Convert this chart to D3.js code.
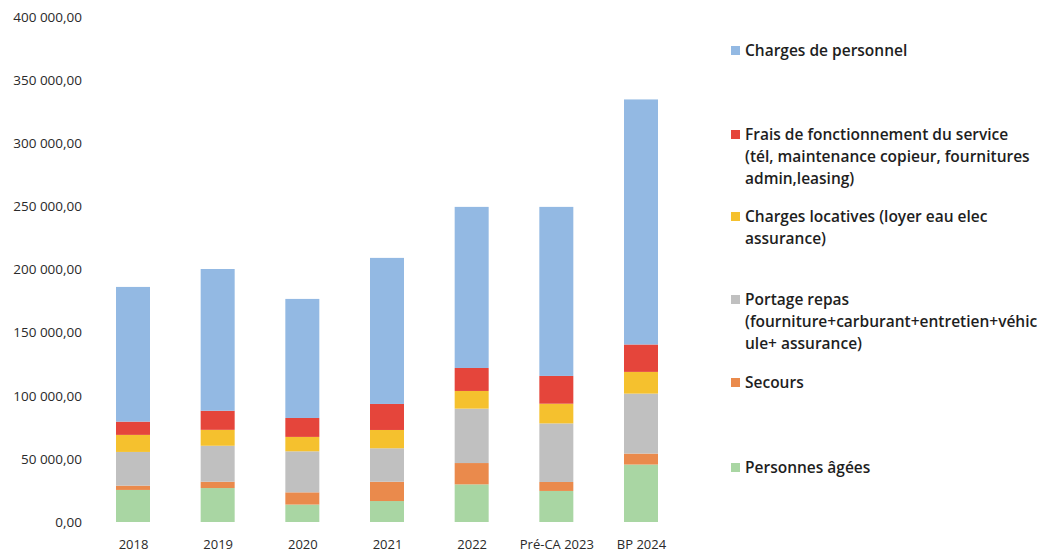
<!DOCTYPE html>
<html>
<head>
<meta charset="utf-8">
<script src="https://cdn.jsdelivr.net/npm/d3@7"></script>
<style>
  body { margin: 0; background: #fff; }
  svg { display: block; }
</style>
</head>
<body>
<div id="chart"></div>
<script>
var years = ["2018", "2019", "2020", "2021", "2022", "Pré-CA 2023", "BP 2024"];

// series, stacked bottom to top
var personnesAgees = [25400, 26900, 13800, 16600, 29800, 24600, 45500];
var secours        = [3400, 5000, 9700, 15300, 16900, 7100, 8700];
var portageRepas   = [26700, 28500, 32500, 26500, 43100, 46400, 47500];
var chargesLoc     = [13500, 12600, 11400, 14500, 14000, 15600, 17200];
var fraisFonct     = [10500, 15100, 15000, 20600, 18200, 22000, 21700];
var personnel      = [106700, 112300, 94300, 115700, 127600, 133900, 194100];

var yTicks = [0, 50000, 100000, 150000, 200000, 250000, 300000, 350000, 400000];

var keys = ["agees", "secours", "portage", "locatives", "frais", "personnel"];
var colors = {
  agees: "#a9d6a3", secours: "#ea8a4c", portage: "#c0c0c0",
  locatives: "#f5c12e", frais: "#e5453b", personnel: "#93b9e3"
};

// legend (top to bottom), each with its wrapped lines
var legendItems = [
  {key: "personnel", lines: ["Charges de personnel"], y: 51},
  {key: "frais", lines: ["Frais de fonctionnement du service", "(tél, maintenance copieur, fournitures", "admin,leasing)"], y: 135},
  {key: "locatives", lines: ["Charges locatives (loyer eau elec", "assurance)"], y: 217},
  {key: "portage", lines: ["Portage repas", "(fourniture+carburant+entretien+véhic", "ule+ assurance)"], y: 300},
  {key: "secours", lines: ["Secours"], y: 383},
  {key: "agees", lines: ["Personnes âgées"], y: 468}
];

var table = years.map(function(y, i) {
  return {
    year: y,
    agees: personnesAgees[i], secours: secours[i], portage: portageRepas[i],
    locatives: chargesLoc[i], frais: fraisFonct[i], personnel: personnel[i]
  };
});

var width = 1042, height = 560;
var svg = d3.select("#chart").append("svg")
  .attr("width", width)
  .attr("height", height);

var x = d3.scalePoint().domain(years).range([133, 641]);
var barW = 34;
var y = d3.scaleLinear().domain([0, 400000]).range([522, 17]);

var fr = d3.formatLocale({decimal: ",", thousands: "\u00a0", grouping: [3], currency: ["", " €"]});
var fmt = fr.format(",.2f");

// y axis, labels only
var yAxis = svg.append("g")
  .attr("transform", "translate(82,0)")
  .call(d3.axisLeft(y).tickValues(yTicks).tickSize(0).tickPadding(0).tickFormat(fmt));
yAxis.select(".domain").remove();
yAxis.selectAll("text")
  .style("font-family", "Open Sans")
  .style("font-size", "13.5px")
  .attr("fill", "#2a2a2a");

// x axis labels
var xAxis = svg.append("g")
  .attr("transform", "translate(0,540)")
  .call(d3.axisBottom(x).tickSize(0).tickPadding(0));
xAxis.select(".domain").remove();
xAxis.selectAll("text")
  .style("font-family", "Open Sans")
  .style("font-size", "13px")
  .attr("fill", "#2a2a2a");

var stack = d3.stack().keys(keys)(table);

svg.append("g").selectAll("g")
  .data(stack)
  .enter().append("g")
  .attr("fill", function(d) { return colors[d.key]; })
  .selectAll("rect")
  .data(function(d) { return d; })
  .enter().append("rect")
  .attr("x", function(d) { return x(d.data.year) - barW / 2; })
  .attr("y", function(d) { return y(d[1]); })
  .attr("width", barW)
  .attr("height", function(d) { return y(d[0]) - y(d[1]); });

// legend
var leg = svg.append("g");
legendItems.forEach(function(item) {
  leg.append("rect")
    .attr("x", 731)
    .attr("y", item.y - 5)
    .attr("width", 9)
    .attr("height", 9)
    .attr("fill", colors[item.key]);
  item.lines.forEach(function(line, j) {
    leg.append("text")
      .attr("x", 745)
      .attr("y", item.y + 5 + j * 22)
      .style("font-family", "Open Sans")
      .style("font-size", "15.5px")
      .style("font-weight", 600)
      .attr("fill", "#1e1e1e")
      .text(line);
  });
});
</script>
</body>
</html>
